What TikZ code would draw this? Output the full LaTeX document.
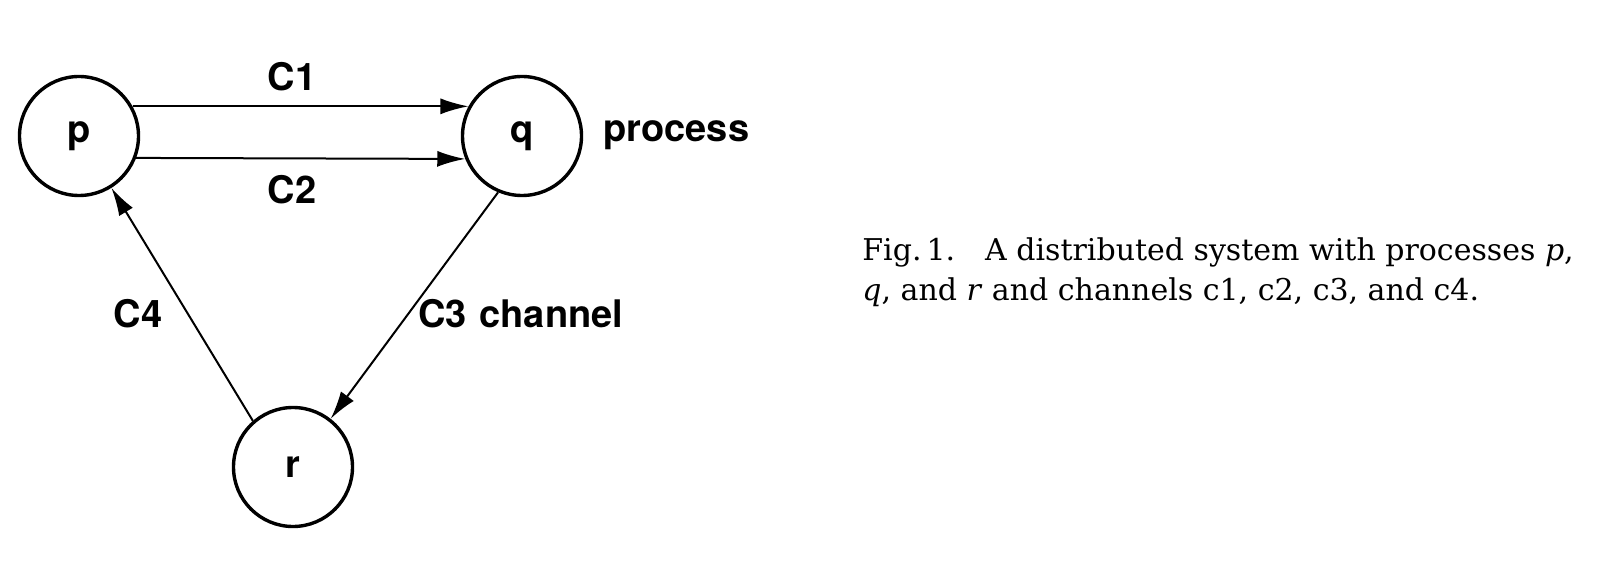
\documentclass[tikz,border=0pt]{standalone}
\usepackage{fontspec}
\setsansfont{TeX Gyre Heros}
\newfontfamily\capfont{DejaVu Serif}
\usetikzlibrary{arrows.meta}
\begin{document}
\begin{tikzpicture}[x=0.5pt,y=-0.5pt,
  proc/.style={draw,circle,line width=1.7pt,minimum size=59.5pt,inner sep=0pt,
    font=\fontsize{19}{22}\selectfont\sffamily\bfseries},
  lbl/.style={font=\fontsize{19}{22}\selectfont\sffamily\bfseries,inner sep=0pt},
  arr/.style={line width=1pt,-{Latex[length=14pt,width=8pt]}},
  captext/.style={font=\fontsize{15}{20}\selectfont\capfont,align=left,inner sep=0pt}]
\useasboundingbox (0,0) rectangle (1604,566);
\node[proc] (p) at (79,136) {p};
\node[proc] (q) at (522,136) {q};
\node[proc] (r) at (293,467) {r};
\draw[arr] (p.29) -- (q.151);
\draw[arr] (p.-21.5) -- (q.-158.5);
\draw[arr] (q.-113) -- (r.52);
\draw[arr] (r.131) -- (p.-58);
\node[lbl] (c1) at (292,77) {C1};
\node[lbl] (c2) at (292,190) {C2};
\node[lbl,anchor=base west] (proclbl) at (603,142) {process};
\node[lbl,anchor=west] (c3) at (418,314) {C3\,\,channel};
\node[lbl] (c4) at (138,314) {C4};
\node[captext,anchor=base west] (capt) at (862,300) {Fig.\,1.\hspace{1em}A distributed system with processes \textit{p},\\\textit{q}, and \textit{r} and channels c1, c2, c3, and c4.};
\end{tikzpicture}
\end{document}
